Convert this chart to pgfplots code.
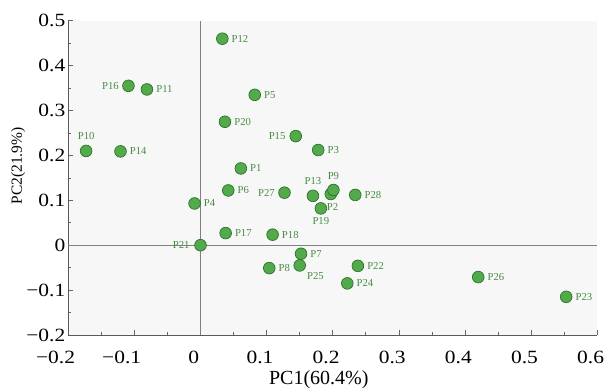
\documentclass[border=0pt]{standalone}
\usepackage{fontspec}
\setmainfont{Liberation Serif}
\newfontfamily\tickfont{Liberation Serif}[FakeStretch=1.15]
\usepackage{pgfplots}
\pgfplotsset{compat=1.18}
\definecolor{ptfill}{RGB}{82,170,74}
\definecolor{ptedge}{RGB}{44,110,42}
\definecolor{lbl}{RGB}{72,140,68}
\begin{document}
\begin{tikzpicture}[x=1pt,y=1pt]
\useasboundingbox (0,0) rectangle (455.25,294);
\begin{axis}[
  at={(51.2pt,42.75pt)}, anchor=south west,
  width=396.75pt, height=235.7pt, scale only axis,
  xmin=-0.2, xmax=0.6, ymin=-0.2, ymax=0.5,
  axis x line*=bottom, axis y line*=left,
  axis background/.style={fill=black!3},
  clip=false,
  xtick={-0.2,-0.1,0,0.1,0.2,0.3,0.4,0.5,0.6},
  xticklabels={\llap{−}0.2,\llap{−}0.1,0,0.1,0.2,0.3,0.4,0.5,0.6},
  ytick={-0.2,-0.1,0,0.1,0.2,0.3,0.4,0.5},
  yticklabels={−0.2,−0.1,0,0.1,0.2,0.3,0.4,0.5},
  minor x tick num=1, minor y tick num=1,
  tick align=inside,
  major tick length=3.5pt, minor tick length=2.2pt,
  tick style={black!60, line width=0.5pt},
  axis line style={black!65, line width=0.6pt},
  xticklabel style={font=\tickfont\fontsize{14}{14}\selectfont, anchor=base, inner sep=0pt, yshift=-21.2pt, xshift=-5pt},
  yticklabel style={font=\tickfont\fontsize{14}{14}\selectfont, anchor=east, inner sep=0pt, xshift=-2pt},
  xlabel={PC1(60.4\%)}, ylabel={PC2(21.9\%)},
  xlabel style={font=\fontsize{15}{15}\selectfont, at={(axis description cs:0.4736,0)}, anchor=base, inner sep=0pt, yshift=-36.9pt},
  ylabel style={font=\fontsize{11.6}{11.6}\selectfont, at={(axis description cs:-0.0945,0.538)}, anchor=center, inner sep=0pt},
]
\addplot[black!50, line width=0.6pt, forget plot] coordinates {(0,-0.2) (0,0.5)};
\addplot[black!50, line width=0.6pt, forget plot] coordinates {(-0.2,0) (0.6,0)};
\addplot[only marks, mark=*, mark size=4.4pt,
  mark options={fill=ptfill, draw=ptedge, line width=0.5pt},
  nodes near coords, point meta=explicit symbolic,
  visualization depends on={value \thisrow{anc} \as \anc},
  visualization depends on={\thisrow{dx} \as \dx},
  visualization depends on={\thisrow{dy} \as \dy},
  nodes near coords style={anchor=\anc, xshift=\dx pt, yshift=\dy pt,
    font=\fontsize{8}{8}\selectfont, text=lbl, inner sep=0pt}
] table[x=x, y=y, meta=lab] {
lab x y anc dx dy
P1 0.061 0.171 west 6.8 0
P2 0.197 0.114 center 1.3 -9.8
P3 0.178 0.212 west 6.8 0
P4 -0.009 0.093 west 6.8 0
P5 0.082 0.335 west 6.8 0
P6 0.042 0.122 west 6.8 0
P7 0.152 -0.019 west 6.8 0
P8 0.104 -0.051 west 6.8 0
P10 -0.173 0.210 center 0 11.3
P11 -0.081 0.347 west 6.8 0
P12 0.033 0.460 west 6.8 0
P13 0.170 0.110 center 0 11.3
P14 -0.121 0.209 west 6.8 0
P15 0.144 0.243 east -7.5 0
P16 -0.109 0.355 east -7 0
P17 0.038 0.027 west 6.8 0
P18 0.109 0.0235 west 6.8 0
P19 0.182 0.082 center 0 -9.8
P20 0.037 0.275 west 6.8 0
P21 0.0 0.0 east -8 0
P22 0.238 -0.046 west 6.8 0
P23 0.553 -0.115 west 6.8 0
P24 0.222 -0.085 west 6.8 0
P25 0.150 -0.045 center 11.8 -8.3
P26 0.420 -0.071 west 6.8 0
P27 0.127 0.117 east -7 0
P28 0.234 0.112 west 6.8 0
P9 0.201 0.123 center 0 10.5
};
\end{axis}
\end{tikzpicture}
\end{document}
